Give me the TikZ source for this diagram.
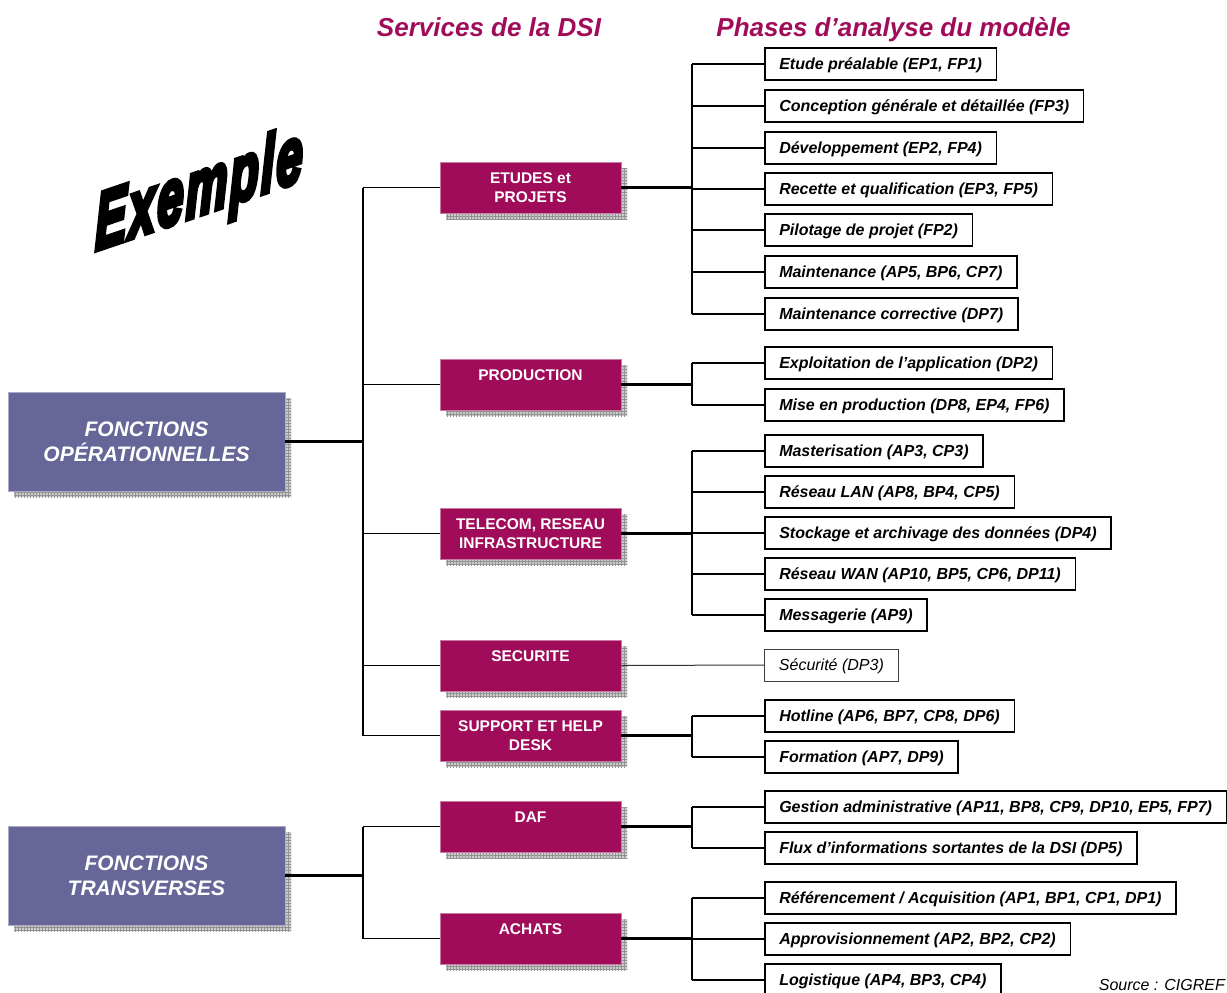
\documentclass[tikz,border=0pt]{standalone}
\usepackage{fontspec}
\setmainfont{Liberation Sans}
\newfontfamily\exfont{Liberation Sans}[BoldItalicFeatures={FakeBold=7,LetterSpace=5}]
\usetikzlibrary{shadows,patterns}
\definecolor{dsimag}{RGB}{160,12,90}
\definecolor{slate}{RGB}{102,102,153}
\tikzset{
 shadowbox/.style={general shadow={shadow xshift=6pt,shadow yshift=-6pt,fill=gray!40},
                   general shadow={shadow xshift=6pt,shadow yshift=-6pt,pattern=grid,pattern color=gray!85}},
 fonctbox/.style={shadowbox, fill=slate, draw=slate!55!white, line width=0.8pt,
   minimum width=277pt, minimum height=99pt, text=white, align=center, inner sep=0pt,
   font=\fontsize{21}{25}\selectfont\bfseries\itshape},
 midbox/.style={shadowbox, fill=dsimag, draw=dsimag!55!white, line width=0.8pt,
   minimum width=181pt, minimum height=51pt, text=white, align=center, inner sep=0pt,
   font=\fontsize{15.5}{19}\selectfont\bfseries},
 phase/.style={draw=black, line width=1.5pt, fill=white, anchor=west, minimum height=32pt,
   inner xsep=14.5pt, inner ysep=0pt, text height=13.5pt, text depth=2pt,
   font=\fontsize{16}{18}\selectfont\bfseries\itshape},
 phaselight/.style={phase, line width=0.9pt, draw=black!75, font=\fontsize{16}{18}\selectfont\itshape},
 thickline/.style={line width=2.2pt},
 thinline/.style={line width=1.3pt},
 titlestyle/.style={text=dsimag, anchor=base, inner sep=0pt, font=\fontsize{26}{30}\selectfont\bfseries\itshape}
}
\begin{document}
\begin{tikzpicture}[x=1pt,y=-1pt]
\useasboundingbox (0,0) rectangle (1227,993);
\clip (0,0) rectangle (1227,993);

% titles
\node[titlestyle] (t-serv) at (489,36) {Services de la DSI};
\node[titlestyle] (t-phase) at (893.5,36) {Phases d’analyse du modèle};

% Exemple
\begin{scope}[shift={(199,215)}, cm={1,0.34,0,1.7,(0,0)}]
\node[transform shape, anchor=base, inner sep=0pt, font=\exfont\fontsize{47}{50}\selectfont\bfseries\itshape] (ex) at (0,0) {Exemple};
\end{scope}

% left boxes
\node[fonctbox] (op) at (146.5,441.5) {FONCTIONS\\OPÉRATIONNELLES};
\node[fonctbox] (tr) at (146.5,875.5) {FONCTIONS\\TRANSVERSES};

% middle boxes
\node[midbox] (etudes)  at (530.5,187.5) {ETUDES et\\PROJETS};
\node[midbox] (prod)    at (530.5,384.5) {PRODUCTION\\\mbox{}};
\node[midbox] (telecom) at (530.5,533.5) {TELECOM, RESEAU\\INFRASTRUCTURE};
\node[midbox] (secu)    at (530.5,665.5) {SECURITE\\\mbox{}};
\node[midbox] (support) at (530.5,735.5) {SUPPORT ET HELP\\DESK};
\node[midbox] (daf)     at (530.5,826.5) {DAF\\\mbox{}};
\node[midbox] (achats)  at (530.5,938.5) {ACHATS\\\mbox{}};

% phases
\node[phase] (e1) at (764,64)  {Etude préalable (EP1, FP1)};
\node[phase] (e2) at (764,106) {Conception générale et détaillée (FP3)};
\node[phase] (e3) at (764,148) {Développement (EP2, FP4)};
\node[phase] (e4) at (764,189) {Recette et qualification (EP3, FP5)};
\node[phase] (e5) at (764,230) {Pilotage de projet (FP2)};
\node[phase] (e6) at (764,272) {Maintenance (AP5, BP6, CP7)};
\node[phase] (e7) at (764,314) {Maintenance corrective (DP7)};
\node[phase] (p1) at (764,363) {Exploitation de l’application (DP2)};
\node[phase] (p2) at (764,405) {Mise en production (DP8, EP4, FP6)};
\node[phase] (t1) at (764,451) {Masterisation (AP3, CP3)};
\node[phase] (t2) at (764,492) {Réseau LAN (AP8, BP4, CP5)};
\node[phase] (t3) at (764,533) {Stockage et archivage des données (DP4)};
\node[phase] (t4) at (764,574) {Réseau WAN (AP10, BP5, CP6, DP11)};
\node[phase] (t5) at (764,615) {Messagerie (AP9)};
\node[phaselight] (s1) at (764,665) {Sécurité (DP3)};
\node[phase] (h1) at (764,716) {Hotline (AP6, BP7, CP8, DP6)};
\node[phase] (h2) at (764,757) {Formation (AP7, DP9)};
\node[phase] (d1) at (764,807) {Gestion administrative (AP11, BP8, CP9, DP10, EP5, FP7)};
\node[phase] (d2) at (764,848) {Flux d’informations sortantes de la DSI (DP5)};
\node[phase] (a1) at (764,898) {Référencement / Acquisition (AP1, BP1, CP1, DP1)};
\node[phase] (a2) at (764,939) {Approvisionnement (AP2, BP2, CP2)};
\node[phase] (a3) at (764,980) {Logistique (AP4, BP3, CP4)};

% source
\node[anchor=east, inner sep=0pt, font=\fontsize{16}{18}\selectfont\itshape] (src) at (1225,985) {Source : CIGREF};

% trunk coordinates
\coordinate (ta) at (363,0);
\coordinate (tb) at (692,0);

% left connectors
\draw[thickline] (op.east) -- (op.east -| ta);
\draw[thinline] (ta |- etudes.west) -- (ta |- support.west);
\foreach \m in {etudes,prod,telecom,secu,support}
  \draw[thinline] (ta |- \m.west) -- (\m.west);
\draw[thickline] (tr.east) -- (tr.east -| ta);
\draw[thinline] (ta |- daf.west) -- (ta |- achats.west);
\foreach \m in {daf,achats}
  \draw[thinline] (ta |- \m.west) -- (\m.west);

% right connectors
\foreach \m/\f/\l in {etudes/e1/e7, prod/p1/p2, telecom/t1/t5, support/h1/h2, daf/d1/d2, achats/a1/a3}{
  \draw[thickline] (\m.east) -- (\m.east -| tb);
  \draw[thinline] (tb |- \f.west) -- (tb |- \l.west);
}
\foreach \c in {e1,e2,e3,e4,e5,e6,e7,p1,p2,t1,t2,t3,t4,t5,h1,h2,d1,d2,a1,a2,a3}
  \draw[thinline] (tb |- \c.west) -- (\c.west);
\draw[line width=1pt, black!80] (secu.east) -- (s1.west);
\end{tikzpicture}
\end{document}
